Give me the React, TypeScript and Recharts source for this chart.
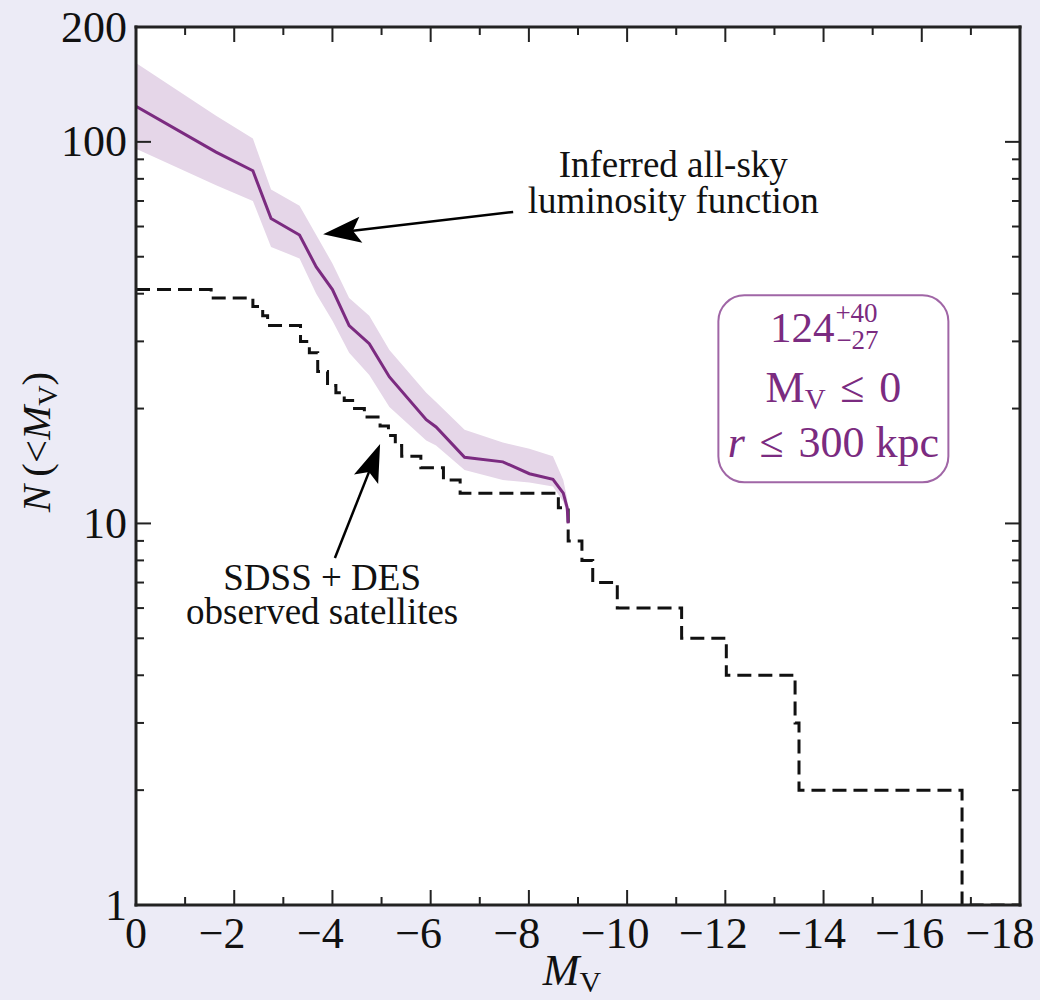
import React from "react";
import {
  Area,
  CartesianGrid,
  ComposedChart,
  Line,
  ReferenceDot,
  ReferenceLine,
  XAxis,
  YAxis,
} from "recharts";

const W = 1040;
const H = 1000;
const BG = "#ecebf6";
const INK = "#222";
const TXT = "#111";
const PURPLE = "#7b2b80";
const BAND = "#e5d6e8";
const BOX = "#a066a6";
const SERIF = "'Liberation Serif', 'DejaVu Serif', 'Times New Roman', serif";

// inferred all-sky luminosity function: median + 68% band
const inferredMv = [0, -1.63, -2.38, -2.75, -3.33, -3.67, -4.0, -4.34, -4.75, -5.16, -5.91, -6.11, -6.69, -7.47, -8.01, -8.49, -8.7, -8.78, -8.8];
const inferredN = [124, 94, 84, 63, 57, 47, 41, 33, 29.6, 24.2, 18.7, 17.9, 14.9, 14.5, 13.5, 13.05, 12.0, 11.0, 10];
const inferredLo = [96, 77, 70, 53, 49.5, 40, 34, 28, 24.5, 20.2, 16.5, 16, 13.8, 13.0, 12.8, 12.5, 11.4, 10.6, 10];
const inferredHi = [161, 117, 102, 75, 68, 57, 48, 39, 35, 28.5, 22, 20.8, 17.6, 16.3, 15.7, 15.0, 13.0, 11.6, 10.3];

// SDSS + DES observed satellites, cumulative count (step)
const observedMv = [0, -1.53, -2.38, -2.58, -2.68, -3.35, -3.53, -3.7, -3.9, -4.07, -4.24, -4.45, -4.65, -4.97, -5.14, -5.28, -5.41, -5.8, -6.26, -6.6, -8.6, -8.8, -9.08, -9.3, -9.8, -11.11, -12.02, -13.42, -13.5, -16.82, -18];
const observedN = [41, 39, 37, 35, 33, 30, 28, 25, 23, 22, 21, 20, 19, 18, 17, 16, 15, 14, 13, 12, 11, 9, 8, 7, 6, 5, 4, 3, 2, 1, 1];

const xTicks = [0, -1, -2, -3, -4, -5, -6, -7, -8, -9, -10, -11, -12, -13, -14, -15, -16, -17, -18];
const yTicks = [1, 2, 3, 4, 5, 6, 7, 8, 9, 10, 20, 30, 40, 50, 60, 70, 80, 90, 100, 200];
const yMajor = [1, 10, 100, 200];

// annotation anchors (data coords)
const inferredArrow = [{ x: -7.68, y: 65.5 }, { x: -3.81, y: 57.3 }];
const observedArrow = [{ x: -4.05, y: 8.12 }, { x: -4.97, y: 16.15 }];
const inferredNoteAt = { x: -10.94, y: 73 };
const observedNoteAt = { x: -3.79, y: 6.07 };
const boxAt = { x: -14.2, y: 22.6 };

const inferredData = inferredMv.map((mv, i) => ({ mv, n: inferredN[i], band: [inferredLo[i], inferredHi[i]] }));
const observedData = observedMv.map((mv, i) => ({ mv, n: observedN[i] }));

const fmtMv = (v: number) => (v === 0 ? "0" : "\u2212" + Math.abs(v));

const BottomTick = ({ x, y, payload }: any) => {
  const v = payload.value;
  const major = v % 2 === 0;
  const dx = v === 0 ? 0 : v === -18 ? -20 : -12;
  return (
    <g>
      <line x1={x} x2={x} y1={y} y2={y - (major ? 15 : 8)} stroke={INK} strokeWidth={2} />
      {major && (
        <text x={x + dx} y={y + 43} textAnchor="middle" fontFamily={SERIF} fontSize={44} fill={TXT}>
          {fmtMv(v)}
        </text>
      )}
    </g>
  );
};

const TopTick = ({ x, y, payload }: any) => {
  const major = payload.value % 2 === 0;
  return <line x1={x} x2={x} y1={y} y2={y + (major ? 15 : 8)} stroke={INK} strokeWidth={2} />;
};

const LeftTick = ({ x, y, payload }: any) => {
  const v = payload.value;
  const major = yMajor.includes(v);
  return (
    <g>
      <line x1={x} x2={x + (major ? 15 : 8)} y1={y} y2={y} stroke={INK} strokeWidth={2} />
      {major && (
        <text x={x - 9} y={y} dy="0.33em" textAnchor="end" fontFamily={SERIF} fontSize={44} fill={TXT}>
          {v}
        </text>
      )}
    </g>
  );
};

const RightTick = ({ x, y, payload }: any) => {
  const major = yMajor.includes(payload.value);
  return <line x1={x} x2={x - (major ? 15 : 8)} y1={y} y2={y} stroke={INK} strokeWidth={2} />;
};

const XTitle = ({ viewBox }: any) => (
  <text x={viewBox.x + viewBox.width / 2 - 6} y={viewBox.y + 80} textAnchor="middle" fontFamily={SERIF} fontSize={44} fill={TXT}>
    <tspan fontStyle="italic">M</tspan>
    <tspan fontSize={30} dy={7}>V</tspan>
  </text>
);

const YTitle = ({ viewBox }: any) => {
  const x = viewBox.x + 14;
  const y = viewBox.y + viewBox.height / 2 - 24;
  return (
    <text x={x} y={y} transform={`rotate(-90, ${x}, ${y})`} textAnchor="middle" fontFamily={SERIF} fontSize={41} fill={TXT}>
      <tspan fontStyle="italic">N</tspan>
      <tspan>{"\u2009(<"}</tspan>
      <tspan fontStyle="italic">M</tspan>
      <tspan fontSize={28} dy={7}>V</tspan>
      <tspan dy={-7}>)</tspan>
    </text>
  );
};

const Arrow = (props: any) => {
  const { x1, y1, x2, y2 } = props;
  const a = Math.atan2(y2 - y1, x2 - x1);
  const c = Math.cos(a);
  const s = Math.sin(a);
  const L = 38;
  const hw = 13;
  const notch = 30;
  const pt = (d: number, w: number) => `${x2 - c * d - s * w},${y2 - s * d + c * w}`;
  return (
    <g>
      <line x1={x1} y1={y1} x2={x2 - c * notch} y2={y2 - s * notch} stroke="#000" strokeWidth={2.5} />
      <polygon points={`${x2},${y2} ${pt(L, hw)} ${pt(notch, 0)} ${pt(L, -hw)}`} fill="#000" />
    </g>
  );
};

const InferredNote = ({ cx, cy }: any) => (
  <text textAnchor="middle" fontFamily={SERIF} fontSize={37} fill={TXT}>
    <tspan x={cx} y={cy - 17}>Inferred all-sky</tspan>
    <tspan x={cx} y={cy + 19}>luminosity function</tspan>
  </text>
);

const ObservedNote = ({ cx, cy }: any) => (
  <text textAnchor="middle" fontFamily={SERIF} fontSize={37} fill={TXT}>
    <tspan x={cx} y={cy - 16}>SDSS + DES</tspan>
    <tspan x={cx} y={cy + 18}>observed satellites</tspan>
  </text>
);

const CountBox = ({ cx, cy }: any) => (
  <g fontFamily={SERIF} fill={PURPLE}>
    <rect x={cx - 115} y={cy - 93} width={230} height={187} rx={26} fill="none" stroke={BOX} strokeWidth={2} />
    <text x={cx + 1} y={cy - 46} textAnchor="end" fontSize={43}>124</text>
    <text x={cx + 2} y={cy - 66} fontSize={27}>+40</text>
    <text x={cx + 3} y={cy - 39} fontSize={27}>{"\u221227"}</text>
    <text x={cx} y={cy + 14} textAnchor="middle" fontSize={44}>
      M<tspan fontSize={29} dy={7}>V</tspan>
      <tspan dy={-7}>{"\u2004\u2264\u20040"}</tspan>
    </text>
    <text x={cx} y={cy + 69} textAnchor="middle" fontSize={44}>
      <tspan fontStyle="italic">r</tspan>
      <tspan>{"\u2004\u2264\u2004300 kpc"}</tspan>
    </text>
  </g>
);

const frame = { stroke: INK, strokeWidth: 3, strokeLinecap: "square" as const };

const LuminosityChart = () => (
  <ComposedChart width={W} height={H} margin={{ top: 0, right: 0, bottom: 35, left: 36 }}>
    <CartesianGrid horizontal={false} vertical={false} fill="#fff" fillOpacity={1} />
    <Area
      data={inferredData}
      dataKey="band"
      type="linear"
      stroke="none"
      fill={BAND}
      fillOpacity={1}
      isAnimationActive={false}
    />
    <Line
      data={observedData}
      dataKey="n"
      type="stepAfter"
      stroke="#111"
      strokeWidth={3}
      strokeDasharray="14 7"
      dot={false}
      isAnimationActive={false}
    />
    <Line
      data={inferredData}
      dataKey="n"
      type="linear"
      stroke={PURPLE}
      strokeWidth={3}
      dot={false}
      isAnimationActive={false}
    />
    <ReferenceLine segment={inferredArrow} shape={Arrow} ifOverflow="visible" />
    <ReferenceLine segment={observedArrow} shape={Arrow} ifOverflow="visible" />
    <ReferenceDot x={inferredNoteAt.x} y={inferredNoteAt.y} r={0} shape={InferredNote} ifOverflow="visible" />
    <ReferenceDot x={observedNoteAt.x} y={observedNoteAt.y} r={0} shape={ObservedNote} ifOverflow="visible" />
    <ReferenceDot x={boxAt.x} y={boxAt.y} r={0} shape={CountBox} ifOverflow="visible" />
    <XAxis
      dataKey="mv"
      type="number"
      domain={[-18, 0]}
      reversed
      allowDataOverflow
      ticks={xTicks}
      interval={0}
      tickSize={0}
      tickMargin={0}
      tick={BottomTick}
      height={60}
      axisLine={frame}
      label={XTitle}
    />
    <XAxis
      xAxisId="top"
      orientation="top"
      dataKey="mv"
      type="number"
      domain={[-18, 0]}
      reversed
      allowDataOverflow
      ticks={xTicks}
      interval={0}
      tickSize={0}
      tickMargin={0}
      tick={TopTick}
      height={27}
      axisLine={frame}
    />
    <YAxis
      type="number"
      scale="log"
      domain={[1, 200]}
      allowDataOverflow
      ticks={yTicks}
      interval={0}
      tickSize={0}
      tickMargin={0}
      tick={LeftTick}
      width={100}
      axisLine={frame}
      label={YTitle}
    />
    <YAxis
      yAxisId="right"
      orientation="right"
      type="number"
      scale="log"
      domain={[1, 200]}
      allowDataOverflow
      ticks={yTicks}
      interval={0}
      tickSize={0}
      tickMargin={0}
      tick={RightTick}
      width={20}
      axisLine={frame}
    />
  </ComposedChart>
);

export default function App() {
  return (
    <div style={{ position: "absolute", left: 0, top: 0, width: W, height: H, background: BG }}>
      <LuminosityChart />
    </div>
  );
}
